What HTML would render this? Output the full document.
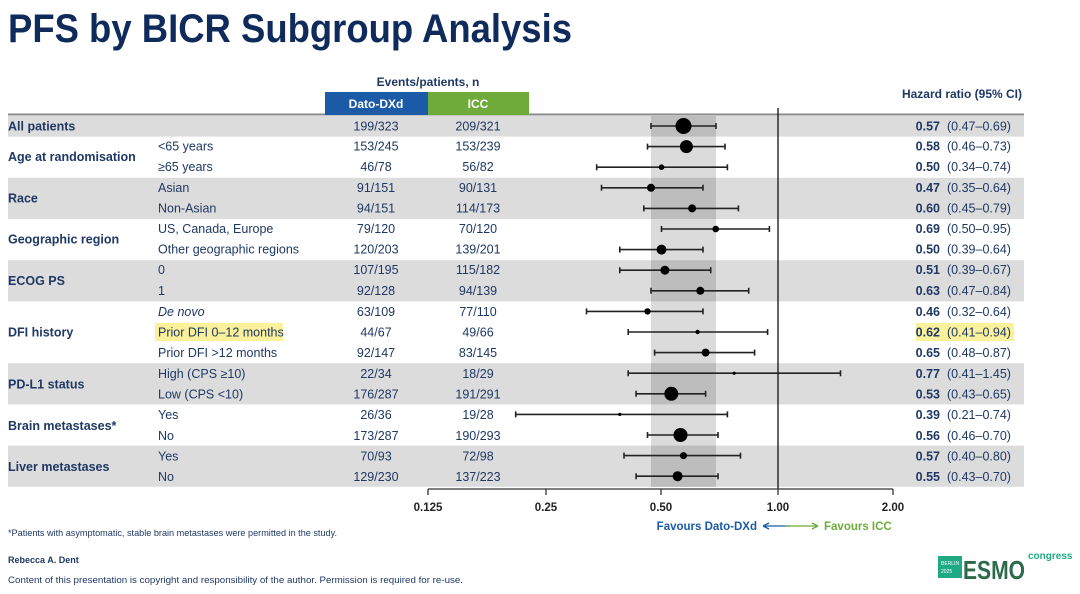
<!DOCTYPE html>
<html><head><meta charset="utf-8"><style>
html,body{margin:0;padding:0;background:#fff;width:1080px;height:594px;overflow:hidden}
svg{display:block;font-family:"Liberation Sans",Arial,sans-serif}
</style></head><body>
<svg width="1080" height="594" viewBox="0 0 1080 594" xmlns="http://www.w3.org/2000/svg">
<text x="8" y="42" font-size="40" font-weight="bold" fill="#0f2b5b" textLength="564" lengthAdjust="spacingAndGlyphs">PFS by BICR Subgroup Analysis</text>

<!-- bands -->
<g fill="#dcdcdc">
<rect x="8" y="116" width="1016" height="20.6"/>
<rect x="8" y="177.8" width="1016" height="41.2"/>
<rect x="8" y="260.2" width="1016" height="41.2"/>
<rect x="8" y="363.2" width="1016" height="41.2"/>
<rect x="8" y="445.6" width="1016" height="41.2"/>
</g>
<line x1="8" y1="114.5" x2="1024" y2="114.5" stroke="#8a8a8a" stroke-width="2"/>
<rect x="651" y="116" width="65" height="371" fill="#000" fill-opacity="0.14"/>
<line x1="778" y1="108" x2="778" y2="489" stroke="#111" stroke-width="1.3"/>

<!-- header -->
<text x="428" y="86" font-size="12" font-weight="bold" fill="#1f3864" text-anchor="middle">Events/patients, n</text>
<rect x="325" y="92" width="103" height="23" fill="#1b5aa6"/>
<rect x="428" y="92" width="101" height="23" fill="#6fab3b"/>
<text x="376" y="108" font-size="12" font-weight="bold" fill="#fff" text-anchor="middle">Dato-DXd</text>
<text x="478" y="108" font-size="12" font-weight="bold" fill="#fff" text-anchor="middle">ICC</text>
<text x="1022" y="98" font-size="12" font-weight="bold" fill="#1f3864" text-anchor="end">Hazard ratio (95% CI)</text>

<rect x="155" y="323" width="128" height="18" fill="#fbf19a"/>
<rect x="916" y="323" width="98" height="18" fill="#fbf19a"/>

<g font-size="12.5" font-weight="bold" fill="#1f3864">
<text x="8" y="130.5">All patients</text>
<text x="8" y="161">Age at randomisation</text>
<text x="8" y="202.5">Race</text>
<text x="8" y="243.5">Geographic region</text>
<text x="8" y="285">ECOG PS</text>
<text x="8" y="336.5">DFI history</text>
<text x="8" y="388.5">PD-L1 status</text>
<text x="8" y="430">Brain metastases*</text>
<text x="8" y="471">Liver metastases</text>
</g>
<g font-size="12.5" fill="#1f3864">
<text x="158" y="150.5">&lt;65 years</text>
<text x="158" y="171">≥65 years</text>
<text x="158" y="192">Asian</text>
<text x="158" y="212.5">Non-Asian</text>
<text x="158" y="233">US, Canada, Europe</text>
<text x="158" y="253.5">Other geographic regions</text>
<text x="158" y="274">0</text>
<text x="158" y="295">1</text>
<text x="158" y="316" font-style="italic">De novo</text>
<text x="158" y="336.5">Prior DFI 0–12 months</text>
<text x="158" y="357">Prior DFI &gt;12 months</text>
<text x="158" y="378">High (CPS ≥10)</text>
<text x="158" y="398.5">Low (CPS &lt;10)</text>
<text x="158" y="419">Yes</text>
<text x="158" y="440">No</text>
<text x="158" y="460.5">Yes</text>
<text x="158" y="481">No</text>
</g>
<g font-size="12.5" fill="#1f3864" text-anchor="middle">
<text x="376" y="130.5">199/323</text><text x="478" y="130.5">209/321</text>
<text x="376" y="150.5">153/245</text><text x="478" y="150.5">153/239</text>
<text x="376" y="171">46/78</text><text x="478" y="171">56/82</text>
<text x="376" y="192">91/151</text><text x="478" y="192">90/131</text>
<text x="376" y="212.5">94/151</text><text x="478" y="212.5">114/173</text>
<text x="376" y="233">79/120</text><text x="478" y="233">70/120</text>
<text x="376" y="253.5">120/203</text><text x="478" y="253.5">139/201</text>
<text x="376" y="274">107/195</text><text x="478" y="274">115/182</text>
<text x="376" y="295">92/128</text><text x="478" y="295">94/139</text>
<text x="376" y="316">63/109</text><text x="478" y="316">77/110</text>
<text x="376" y="336.5">44/67</text><text x="478" y="336.5">49/66</text>
<text x="376" y="357">92/147</text><text x="478" y="357">83/145</text>
<text x="376" y="378">22/34</text><text x="478" y="378">18/29</text>
<text x="376" y="398.5">176/287</text><text x="478" y="398.5">191/291</text>
<text x="376" y="419">26/36</text><text x="478" y="419">19/28</text>
<text x="376" y="440">173/287</text><text x="478" y="440">190/293</text>
<text x="376" y="460.5">70/93</text><text x="478" y="460.5">72/98</text>
<text x="376" y="481">129/230</text><text x="478" y="481">137/223</text>
</g>
<g font-size="12.5" font-weight="bold" fill="#1f3864" text-anchor="end">
<text x="940" y="130.5">0.57</text><text x="940" y="150.5">0.58</text><text x="940" y="171">0.50</text>
<text x="940" y="192">0.47</text><text x="940" y="212.5">0.60</text><text x="940" y="233">0.69</text>
<text x="940" y="253.5">0.50</text><text x="940" y="274">0.51</text><text x="940" y="295">0.63</text>
<text x="940" y="316">0.46</text><text x="940" y="336.5">0.62</text><text x="940" y="357">0.65</text>
<text x="940" y="378">0.77</text><text x="940" y="398.5">0.53</text><text x="940" y="419">0.39</text>
<text x="940" y="440">0.56</text><text x="940" y="460.5">0.57</text><text x="940" y="481">0.55</text>
</g>
<g font-size="12.5" fill="#1f3864">
<text x="947" y="130.5">(0.47–0.69)</text><text x="947" y="150.5">(0.46–0.73)</text><text x="947" y="171">(0.34–0.74)</text>
<text x="947" y="192">(0.35–0.64)</text><text x="947" y="212.5">(0.45–0.79)</text><text x="947" y="233">(0.50–0.95)</text>
<text x="947" y="253.5">(0.39–0.64)</text><text x="947" y="274">(0.39–0.67)</text><text x="947" y="295">(0.47–0.84)</text>
<text x="947" y="316">(0.32–0.64)</text><text x="947" y="336.5">(0.41–0.94)</text><text x="947" y="357">(0.48–0.87)</text>
<text x="947" y="378">(0.41–1.45)</text><text x="947" y="398.5">(0.43–0.65)</text><text x="947" y="419">(0.21–0.74)</text>
<text x="947" y="440">(0.46–0.70)</text><text x="947" y="460.5">(0.40–0.80)</text><text x="947" y="481">(0.43–0.70)</text>
</g>

<!-- CIs -->
<g stroke="#222" stroke-width="1.6">
<path d="M651 126H716M651 123v6M716 123v6"/>
<path d="M647.5 146.6H725M647.5 143.6v6M725 143.6v6"/>
<path d="M596.7 167.2H727.4M596.7 164.2v6M727.4 164.2v6"/>
<path d="M601.5 187.8H703M601.5 184.8v6M703 184.8v6"/>
<path d="M643.8 208.4H738.4M643.8 205.4v6M738.4 205.4v6"/>
<path d="M661.5 229H769.4M661.5 226v6M769.4 226v6"/>
<path d="M619.8 249.6H703M619.8 246.6v6M703 246.6v6"/>
<path d="M619.8 270.2H710.7M619.8 267.2v6M710.7 267.2v6"/>
<path d="M651 290.8H748.7M651 287.8v6M748.7 287.8v6"/>
<path d="M586.5 311.4H703M586.5 308.4v6M703 308.4v6"/>
<path d="M628.2 332H767.6M628.2 329v6M767.6 329v6"/>
<path d="M654.6 352.6H754.6M654.6 349.6v6M754.6 349.6v6"/>
<path d="M628.2 373.2H840.5M628.2 370.2v6M840.5 370.2v6"/>
<path d="M636.1 393.8H705.6M636.1 390.8v6M705.6 390.8v6"/>
<path d="M515.7 414.4H727.4M515.7 411.4v6M727.4 411.4v6"/>
<path d="M647.5 435H718M647.5 432v6M718 432v6"/>
<path d="M624 455.6H740.5M624 452.6v6M740.5 452.6v6"/>
<path d="M636.1 476.2H718M636.1 473.2v6M718 473.2v6"/>
</g>
<g fill="#000">
<circle cx="683.5" cy="126" r="8"/>
<circle cx="686.4" cy="146.6" r="6.5"/>
<circle cx="661.5" cy="167.2" r="2.8"/>
<circle cx="651" cy="187.8" r="4"/>
<circle cx="692.1" cy="208.4" r="4"/>
<circle cx="715.7" cy="229" r="3.3"/>
<circle cx="661.5" cy="249.6" r="5"/>
<circle cx="664.9" cy="270.2" r="4.5"/>
<circle cx="700.3" cy="290.8" r="4"/>
<circle cx="647.5" cy="311.4" r="3.2"/>
<circle cx="697.6" cy="332" r="2.2"/>
<circle cx="705.6" cy="352.6" r="4"/>
<circle cx="734.1" cy="373.2" r="1.6"/>
<circle cx="671.3" cy="393.8" r="7"/>
<circle cx="619.8" cy="414.4" r="1.6"/>
<circle cx="680.5" cy="435" r="7"/>
<circle cx="683.5" cy="455.6" r="3.5"/>
<circle cx="677.6" cy="476.2" r="5"/>
</g>

<!-- axis -->
<g stroke="#333" stroke-width="1.3">
<path d="M428 489H893M428 489v6M546 489v6M661 489v6M778 489v6M893 489v6"/>
</g>
<g font-size="11.5" font-weight="bold" fill="#222" text-anchor="middle">
<text x="428" y="511">0.125</text><text x="546" y="511">0.25</text><text x="661" y="511">0.50</text><text x="778" y="511">1.00</text><text x="893" y="511">2.00</text>
</g>
<text x="757" y="530" font-size="11.5" font-weight="bold" fill="#1b5aa6" text-anchor="end">Favours Dato-DXd</text>
<path d="M763 526H790M763 526l6-3M763 526l6 3" stroke="#1b5aa6" stroke-width="1.3" fill="none"/>
<path d="M785 526H818M818 526l-6-3M818 526l-6 3" stroke="#6fab3b" stroke-width="1.3" fill="none"/>
<text x="824" y="530" font-size="11.5" font-weight="bold" fill="#6fab3b">Favours ICC</text>

<!-- footer -->
<text x="8" y="536" font-size="9" fill="#1f3864" textLength="329" lengthAdjust="spacingAndGlyphs">*Patients with asymptomatic, stable brain metastases were permitted in the study.</text>
<text x="8" y="563" font-size="9" font-weight="bold" fill="#1f3864">Rebecca A. Dent</text>
<text x="8" y="583" font-size="9" fill="#1f3864" textLength="455" lengthAdjust="spacingAndGlyphs">Content of this presentation is copyright and responsibility of the author. Permission is required for re-use.</text>

<!-- logo -->
<rect x="938" y="556" width="24" height="22" fill="#1faa83"/>
<text x="941" y="565" font-size="5" fill="#fff">BERLIN</text>
<text x="941" y="573" font-size="5" fill="#fff">2025</text>
<text x="963" y="579" font-size="26" font-weight="bold" fill="#2c6a4a" textLength="62" lengthAdjust="spacingAndGlyphs">ESMO</text>
<text x="1028" y="559" font-size="10" font-weight="bold" fill="#1faa83">congress</text>
</svg>
</body></html>
